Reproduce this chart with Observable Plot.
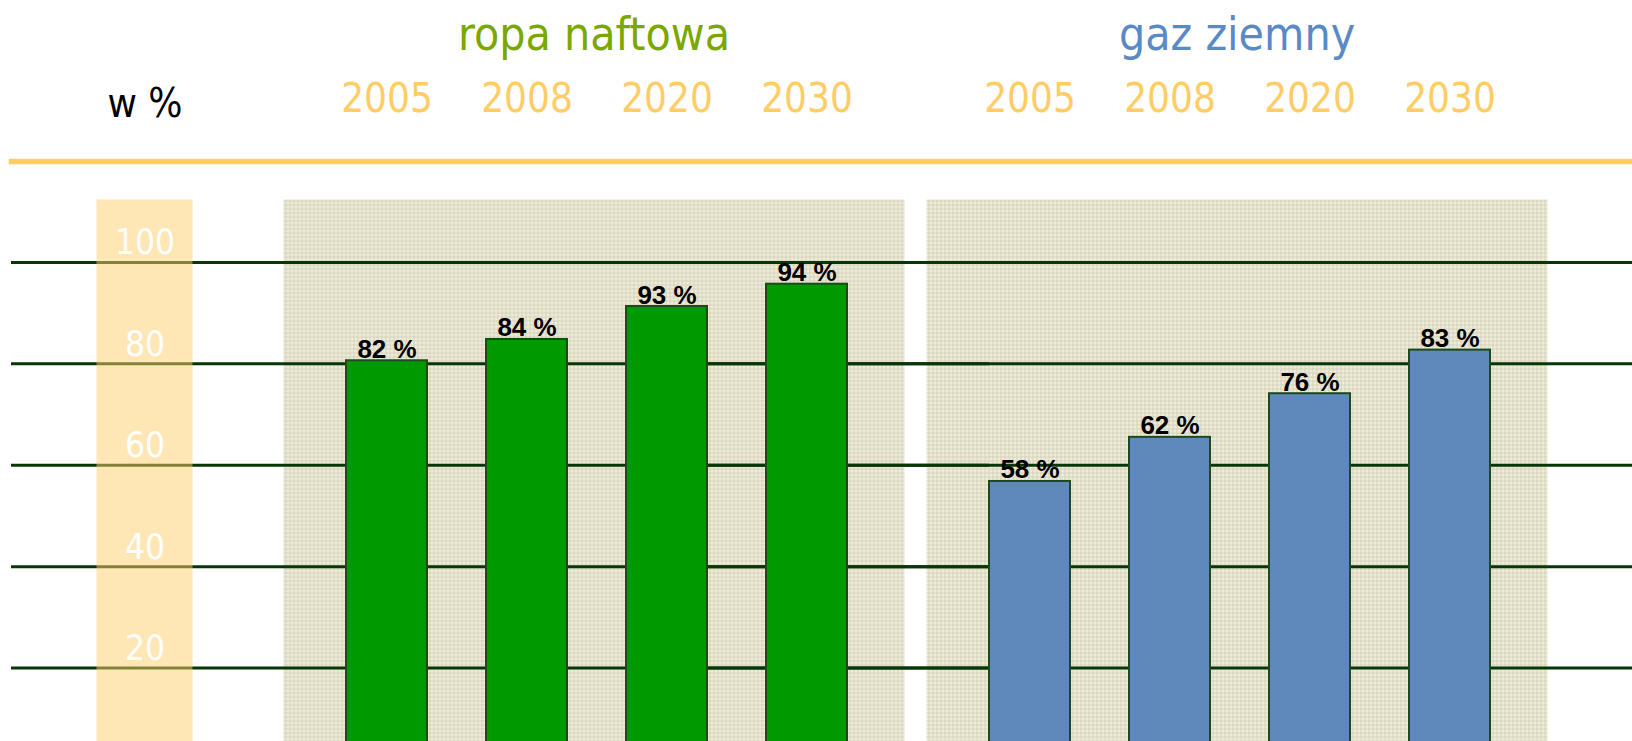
<!DOCTYPE html>
<html><head><meta charset="utf-8">
<script src="https://cdn.jsdelivr.net/npm/d3@7"></script>
<script src="https://cdn.jsdelivr.net/npm/@observablehq/plot@0.6"></script>
<style>
html,body{margin:0;padding:0;background:#fff;overflow:hidden;}
#chart svg{display:block;}
</style></head><body><div id="chart"></div>
<script>
// ---- data ----
const groups = ["ropa naftowa", "gaz ziemny"];
const years = ["2005", "2008", "2020", "2030"];
const oilValues = [80.6, 84.8, 91.3, 95.7];      // bar heights as drawn
const oilLabels = ["82 %", "84 %", "93 %", "94 %"];
const gasValues = [56.8, 65.5, 74.1, 82.7];
const gasLabels = ["58 %", "62 %", "76 %", "83 %"];
const yTicks = [20, 40, 60, 80, 100];
const unitLabel = "w %";

// ---- tables ----
const oil = years.map((year, i) => ({group: groups[0], year, value: oilValues[i], label: oilLabels[i]}));
const gas = years.map((year, i) => ({group: groups[1], year, value: gasValues[i], label: gasLabels[i]}));
const yearRows = groups.flatMap(g => years.map(year => ({group: g, year})));
const tickRows = yTicks.map(v => ({group: groups[0], v}));

const condensed = `"DejaVu Sans Condensed", "Liberation Sans Narrow", "DejaVu Sans", sans-serif`;

const chart = Plot.plot({
  width: 1632,
  height: 741,
  marginTop: 199, marginBottom: 0, marginLeft: 10, marginRight: 0,
  style: {background: "white", overflow: "hidden"},
  fx: {domain: groups, paddingInner: 0.0342, paddingOuter: 0.2776, align: 0.7617, axis: null},
  x: {domain: years, paddingInner: 0.419, paddingOuter: 0.4245, align: 0.526, axis: null},
  y: {domain: [0, 112.4], range: [769, 199], axis: null},
  marks: [
    // textured panels, one per group
    Plot.frame({fill: "url(#panelTexture)", stroke: "none"}),
    // horizontal gridlines, stretched beyond each panel to cover the full width
    Plot.ruleY(yTicks, {stroke: "#073607", strokeWidth: 3, insetLeft: -272, insetRight: -85}),
    // translucent orange axis band (left of the first panel)
    Plot.frame({fill: "rgb(255,205,107)", fillOpacity: 0.5, stroke: "none", insetLeft: -187, insetRight: 1355, facet: "super"}),
    // y tick labels (drawn once, left of the first panel)
    Plot.text(tickRows, {fx: "group", y: "v", text: d => String(d.v), frameAnchor: "left", dx: -138.5, textAnchor: "middle",
      lineAnchor: "bottom", dy: -8, fill: "white", fontSize: 35, fontFamily: condensed}),
    // unit label
    Plot.text([unitLabel], {text: d => d, frameAnchor: "top-left", dx: -138.5, dy: -83, textAnchor: "middle",
      lineAnchor: "bottom", fill: "black", fontSize: 40, fontFamily: condensed, facet: "super"}),
    // orange rule under the header
    Plot.frame({anchor: "top", stroke: "#FFCC66", strokeWidth: 5.5, dy: -38, insetLeft: -272, insetRight: -85, facet: "super"}),
    // group headings
    Plot.text([groups[0]], {fx: d => d, text: d => d, frameAnchor: "top", dy: -150, lineAnchor: "bottom",
      fill: "#7AA800", fontSize: 46, fontFamily: condensed}),
    Plot.text([groups[1]], {fx: d => d, text: d => d, frameAnchor: "top", dy: -150, lineAnchor: "bottom",
      fill: "#5A8AC6", fontSize: 46, fontFamily: condensed}),
    // year labels
    Plot.text(yearRows, {fx: "group", x: "year", text: "year", frameAnchor: "top", dy: -88, lineAnchor: "bottom",
      fill: "#FFCC66", fontSize: 40, fontFamily: condensed}),
    // bars
    Plot.barY(oil, {fx: "group", x: "year", y: "value", fill: "#009900", stroke: "#1B4A1B", strokeWidth: 2}),
    Plot.barY(gas, {fx: "group", x: "year", y: "value", fill: "#5E89BA", stroke: "#1B4A1B", strokeWidth: 2}),
    // value labels
    Plot.text([...oil, ...gas], {fx: "group", x: "year", y: "value", text: "label", dy: -3, lineAnchor: "bottom",
      fill: "black", fontSize: 26, fontWeight: "bold", fontFamily: "'Liberation Sans', Arial, sans-serif"})
  ]
});

d3.select(chart).insert("defs", ":first-child").html(
  `<pattern id="panelTexture" width="4" height="4" patternUnits="userSpaceOnUse">
     <rect width="4" height="4" fill="#EEEBDC"/>
     <rect width="4" height="1" fill="#D6D3BA"/>
     <rect width="1" height="4" fill="#D6D3BA"/>
   </pattern>`);

document.getElementById("chart").appendChild(chart);
</script>
</body></html>
